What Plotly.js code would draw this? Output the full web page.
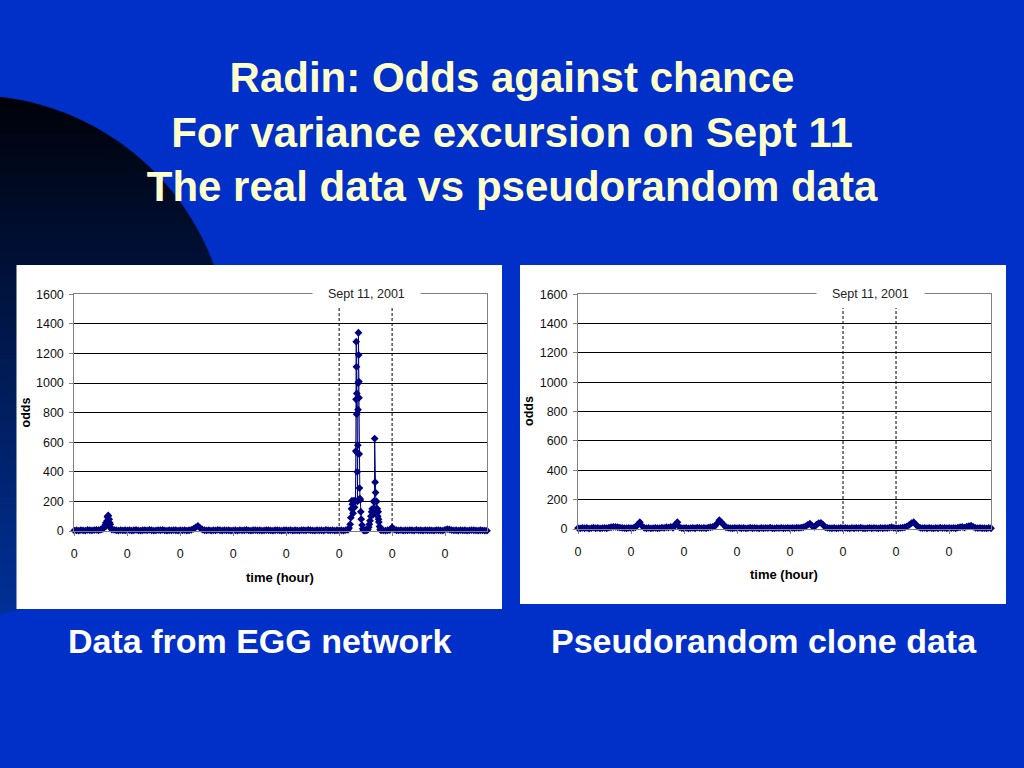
<!DOCTYPE html>
<html>
<head>
<meta charset="utf-8">
<script src="https://cdn.plot.ly/plotly-3.0.1.min.js"></script>
<style>
  html, body { margin: 0; padding: 0; background: #0030c8; }
  #chart { width: 1024px; height: 768px; }
</style>
</head>
<body>
<div id="chart"></div>
<script>
// ---------------- DATA ----------------
// Tick labels of the time axis (Excel showed every daily tick as "0")
const xTickHours  = [0, 24, 48, 72, 96, 120, 144, 168];
const xTickLabels = ["0", "0", "0", "0", "0", "0", "0", "0"];
const yTickValues = [0, 200, 400, 600, 800, 1000, 1200, 1400, 1600];

// Sept 11 window (hours)
const sept11StartHour = 120;
const sept11EndHour   = 144;
const sept11Label     = "Sept 11, 2001";

// EGG network: hourly odds, hours 0..187
const eggOddsHourly = [
  3, 5, 2, 6, 4, 3, 7, 5, 4, 6, 8, 5, 10, 15, 40, 95, 55, 10, 8, 5, 3, 6, 4, 5,
  4, 6, 3, 5, 7, 4, 3, 5, 6, 4, 8, 5, 3, 4, 6, 5, 7, 4, 3, 5, 4, 6, 5, 3,
  5, 4, 6, 3, 5, 8, 15, 25, 35, 20, 10, 5, 4, 6, 3, 5, 4, 7, 5, 3, 6, 4, 5, 3,
  4, 5, 3, 6, 4, 5, 7, 4, 3, 5, 6, 4, 5, 3, 4, 6, 5, 4, 3, 5, 6, 4, 3, 5,
  5, 4, 6, 3, 5, 4, 3, 6, 5, 4, 7, 5, 4, 3, 6, 4, 5, 3, 8, 5, 4, 6, 3, 5,
  4, 5, 3, 6, 8, 45, 180, 160, 930, 900, 80, 5, 6, 10, 70, 150, 200, 200, 60, 5, 4, 3, 5, 6,
  25, 10, 5, 4, 6, 3, 5, 4, 6, 5, 3, 7, 4, 5, 3, 6, 4, 5, 4, 3, 6, 5, 4, 3,
  8, 12, 10, 6, 4, 5, 3, 6, 4, 5, 3, 4, 6, 5, 4, 3, 5, 4, 3, 2
];
// EGG network: extra sub-hour readings around the excursions
const eggDetailHours = [
  12.5, 13.5, 14.3, 14.6, 14.9, 15.2, 15.4, 15.6, 15.8, 16.3, 16.6,
  124.5, 125.3, 125.6, 125.8, 126.3, 126.6, 126.8, 127.2, 127.4, 127.55, 127.65, 127.75, 127.85, 127.92,
  128.1, 128.2, 128.3, 128.45, 128.55, 128.65, 128.75, 128.85, 128.95, 129.1, 129.2, 129.4, 129.6, 129.8,
  130.4, 130.7, 131.5, 132.5, 133.4, 133.7, 134.4, 134.7, 135.3, 135.6, 135.8, 136.1, 136.3, 136.5, 136.7,
  137.3, 137.5, 137.7, 137.85, 138.3, 138.6
];
const eggDetailOdds = [
  12, 25, 55, 35, 70, 100, 105, 60, 80, 45, 20,
  20, 90, 150, 205, 120, 200, 205, 200, 205, 540, 890, 1280, 1110, 790,
  530, 400, 200, 580, 820, 1000, 1340, 1190, 1010, 520, 290, 220, 210, 130,
  40, 15, 3, 4, 25, 45, 100, 130, 110, 200, 150, 625, 330, 260, 140,
  150, 100, 130, 80, 30, 10
];

// Pseudorandom clone: hourly odds, hours 0..187
const cloneOddsHourly = [
  6, 4, 8, 5, 7, 3, 6, 9, 5, 7, 4, 6, 8, 5, 10, 12, 15, 14, 12, 10, 8, 6, 5, 7,
  6, 8, 12, 30, 46, 20, 8, 5, 7, 4, 6, 8, 5, 6, 9, 7, 12, 10, 15, 8, 30, 46, 12, 6,
  5, 7, 4, 6, 8, 5, 9, 7, 6, 8, 5, 10, 12, 14, 20, 38, 60, 45, 28, 12, 8, 6, 5, 7,
  6, 8, 5, 7, 4, 6, 9, 5, 7, 6, 4, 8, 5, 7, 6, 9, 5, 4, 7, 6, 8, 5, 6, 7,
  5, 8, 6, 9, 7, 10, 12, 18, 28, 37, 20, 15, 30, 40, 42, 28, 12, 8, 6, 5, 7, 4, 6, 8,
  5, 7, 6, 4, 8, 5, 7, 6, 9, 5, 4, 6, 8, 5, 7, 6, 4, 8, 5, 7, 6, 9, 12, 8,
  6, 5, 7, 9, 12, 18, 28, 40, 46, 30, 15, 8, 6, 7, 5, 8, 6, 4, 7, 5, 9, 6, 8, 5,
  7, 6, 8, 5, 9, 12, 14, 10, 16, 20, 23, 15, 8, 6, 7, 5, 6, 4, 7, 5
];

// ---------------- BUILD ----------------
function mergeSeries(hourly, detailHours, detailValues) {
  const pts = hourly.map((v, i) => [i, v]);
  for (let k = 0; k < detailHours.length; k++) pts.push([detailHours[k], detailValues[k]]);
  pts.sort((a, b) => a[0] - b[0]);
  return { x: pts.map(p => p[0]), y: pts.map(p => p[1]) };
}
const egg = mergeSeries(eggOddsHourly, eggDetailHours, eggDetailOdds);
const clone = mergeSeries(cloneOddsHourly, [], []);

const W = 1024, H = 768;
const fx = px => px / W;
const fy = py => 1 - py / H;

const NAVY = '#000080';
const tickFontFamily = '"Liberation Sans", Arial, sans-serif';
const boldFamily = '"Liberation Sans", Arial, sans-serif';

function seriesTrace(s, xa, ya, name) {
  return {
    type: 'scatter', mode: 'lines+markers', name: name,
    x: s.x, y: s.y, xaxis: xa, yaxis: ya,
    line: { color: NAVY, width: 1 },
    marker: { color: NAVY, symbol: 'diamond', size: 6, line: { width: 0 } },
    cliponaxis: false, showlegend: false, hoverinfo: 'skip'
  };
}

function xAxis(domain, anchor) {
  return {
    domain: domain, anchor: anchor, range: [0, 187],
    tickmode: 'array', tickvals: xTickHours, ticktext: xTickLabels,
    showgrid: false, zeroline: false,
    showline: true, linecolor: '#808080', linewidth: 1, mirror: true,
    ticks: 'outside', ticklen: 4, tickcolor: '#808080',
    ticklabelstandoff: 7,
    tickfont: { family: tickFontFamily, size: 12.5, color: '#111' },
    fixedrange: true
  };
}
function yAxis(domain, anchor) {
  return {
    domain: domain, anchor: anchor, range: [0, 1600],
    tickmode: 'array', tickvals: yTickValues,
    showgrid: true, gridcolor: '#000000', gridwidth: 1, zeroline: false,
    showline: true, linecolor: '#808080', linewidth: 1, mirror: true,
    ticks: 'outside', ticklen: 4, tickcolor: '#808080',
    ticklabelstandoff: 3,
    tickfont: { family: tickFontFamily, size: 12.5, color: '#111' },
    fixedrange: true
  };
}

// Decorative dark circle with a vertical gradient (drawn as horizontal bands)
const circ = { cx: -30, cy: 355, r: 260 };
const shapes = [];
const yTop = circ.cy - circ.r, yBot = circ.cy + circ.r;
const nb = 40;
for (let b = 0; b < nb; b++) {
  const ya = yTop + (yBot - yTop) * b / nb;
  const yb = yTop + (yBot - yTop) * (b + 1) / nb + 0.6;
  let d = 'M ' + fx(0) + ',' + fy(ya);
  for (let k = 0; k <= 8; k++) {
    const y = ya + (yb - ya) * k / 8;
    const dx = Math.sqrt(Math.max(0, circ.r * circ.r - (y - circ.cy) * (y - circ.cy)));
    const xr = Math.max(0, circ.cx + dx);
    d += ' L ' + fx(xr) + ',' + fy(y);
  }
  d += ' L ' + fx(0) + ',' + fy(yb) + ' Z';
  const t = b / (nb - 1);
  const g = Math.round(2 + 46 * t), bl = Math.round(10 + 140 * t);
  shapes.push({ type: 'path', xref: 'paper', yref: 'paper', path: d,
    fillcolor: 'rgb(0,' + g + ',' + bl + ')', line: { width: 0 }, layer: 'below' });
}
// White chart panels
shapes.push({ type: 'rect', xref: 'paper', yref: 'paper', x0: fx(16.5), x1: fx(502), y0: fy(609), y1: fy(265),
  fillcolor: '#ffffff', line: { width: 0 }, layer: 'below' });
shapes.push({ type: 'rect', xref: 'paper', yref: 'paper', x0: fx(520), x1: fx(1006), y0: fy(604), y1: fy(265),
  fillcolor: '#ffffff', line: { width: 0 }, layer: 'below' });
// Sept 11 dashed markers
[['x', 'y'], ['x2', 'y2']].forEach(([xr, yr]) => {
  [sept11StartHour, sept11EndHour].forEach(h => {
    shapes.push({ type: 'line', xref: xr, yref: yr, x0: h, x1: h, y0: 0, y1: 1507,
      line: { color: '#000000', width: 1, dash: '3px,2px' }, layer: 'above' });
  });
});

const nb4 = '\u00A0\u00A0\u00A0\u00A0';
function ann(o) { return Object.assign({ showarrow: false, xanchor: 'center', yanchor: 'middle' }, o); }
const annotations = [
  // axis titles
  ann({ xref: 'paper', yref: 'paper', x: fx(25), y: fy(412.5), text: 'odds', textangle: -90,
    font: { family: boldFamily, size: 12.5, color: '#000', weight: 'bold' } }),
  ann({ xref: 'paper', yref: 'paper', x: fx(528.5), y: fy(411.5), text: 'odds', textangle: -90,
    font: { family: boldFamily, size: 12.5, color: '#000', weight: 'bold' } }),
  ann({ xref: 'paper', yref: 'paper', x: fx(280), y: fy(577), text: 'time (hour)',
    font: { family: boldFamily, size: 13, color: '#000', weight: 'bold' } }),
  ann({ xref: 'paper', yref: 'paper', x: fx(783.5), y: fy(574.5), text: 'time (hour)',
    font: { family: boldFamily, size: 13, color: '#000', weight: 'bold' } }),
  // Sept 11 labels
  ann({ xref: 'x', yref: 'y', x: (sept11StartHour + sept11EndHour) / 2 + 0.5, y: 1600, text: nb4 + sept11Label + nb4,
    bgcolor: '#ffffff', borderpad: 1,
    font: { family: tickFontFamily, size: 12.5, color: '#222' } }),
  ann({ xref: 'x2', yref: 'y2', x: (sept11StartHour + sept11EndHour) / 2 + 0.5, y: 1600, text: nb4 + sept11Label + nb4,
    bgcolor: '#ffffff', borderpad: 1,
    font: { family: tickFontFamily, size: 12.5, color: '#222' } }),
  // captions
  ann({ xref: 'paper', yref: 'paper', x: fx(260), y: fy(641), text: 'Data from EGG network',
    font: { family: boldFamily, size: 34, color: '#ffffff', weight: 'bold' } }),
  ann({ xref: 'paper', yref: 'paper', x: fx(764), y: fy(641), text: 'Pseudorandom clone data',
    font: { family: boldFamily, size: 34, color: '#ffffff', weight: 'bold' } })
];

const layout = {
  width: W, height: H,
  margin: { l: 0, r: 0, t: 0, b: 0, pad: 0 },
  paper_bgcolor: '#0030c8', plot_bgcolor: '#ffffff',
  title: {
    text: 'Radin: Odds against chance<br>For variance excursion on Sept 11<br>The real data vs pseudorandom data',
    x: 0.5, xanchor: 'center', xref: 'paper',
    y: fy(92), yanchor: 'top', yref: 'container',
    font: { family: boldFamily, size: 42, color: '#ffffcc', weight: 'bold' }
  },
  xaxis: xAxis([fx(74.3), fx(487)], 'y'),
  yaxis: yAxis([fy(531), fy(294.3)], 'x'),
  xaxis2: xAxis([fx(578), fx(991)], 'y2'),
  yaxis2: yAxis([fy(529), fy(294.3)], 'x2'),
  shapes: shapes,
  annotations: annotations,
  showlegend: false,
  hovermode: false
};

Plotly.newPlot('chart', [
  seriesTrace(egg, 'x', 'y', 'EGG network'),
  seriesTrace(clone, 'x2', 'y2', 'Pseudorandom clone')
], layout, { staticPlot: true, displayModeBar: false });
</script>
</body>
</html>
